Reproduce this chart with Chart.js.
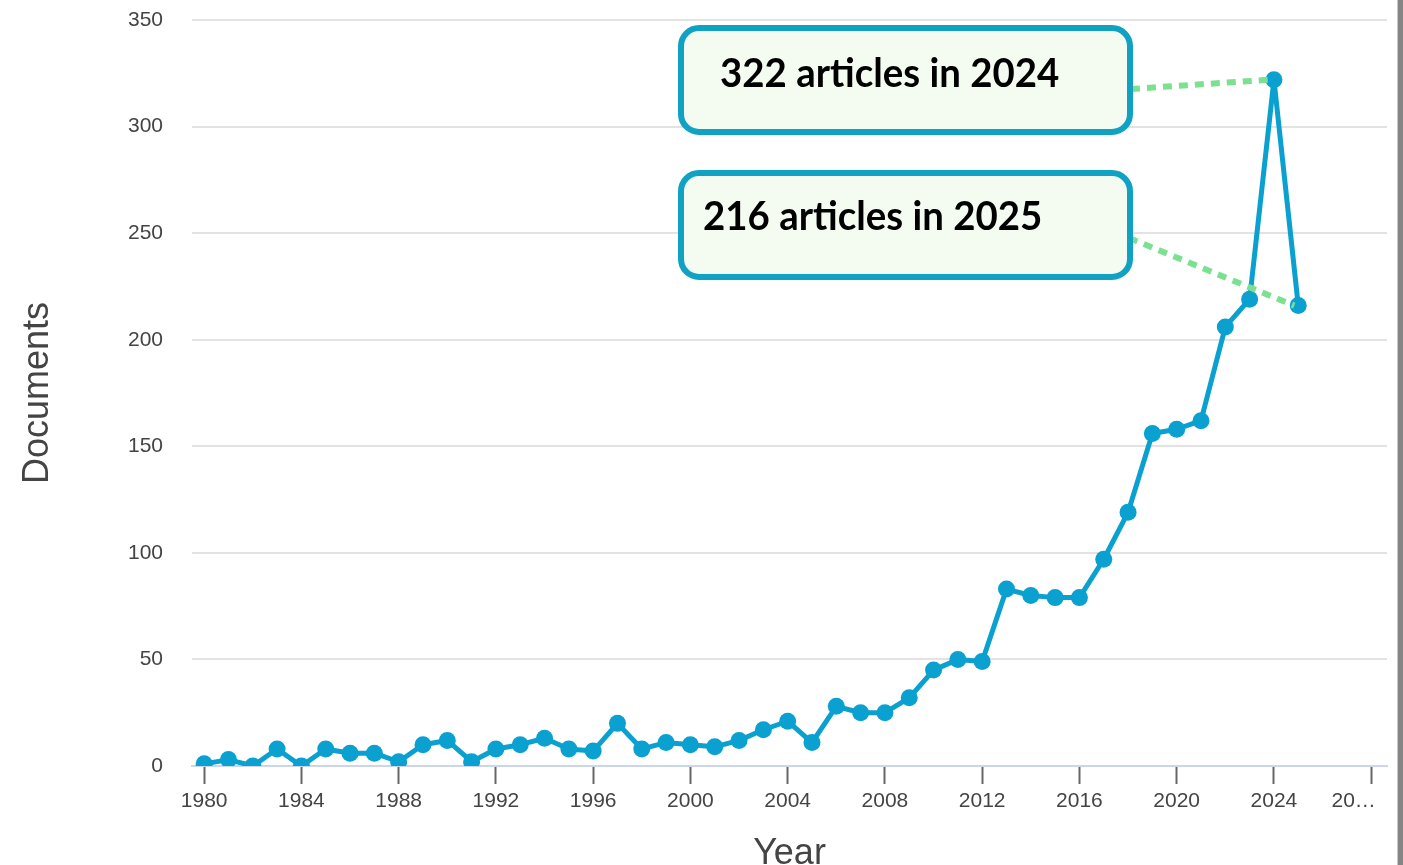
<!DOCTYPE html>
<html>
<head>
<meta charset="utf-8">
<script src="https://cdn.jsdelivr.net/npm/chart.js@4"></script>
<style>
  html, body { margin: 0; padding: 0; background: #fff; overflow: hidden; }
  #wrap { position: relative; width: 1403px; height: 865px; overflow: hidden; }
  #wrap canvas { position: absolute; left: 0; top: 0; }
  #edge { position: absolute; left: 1397px; top: 0; width: 6px; height: 865px; background: #858585; border-left: 1px solid #c8c8c8; }
</style>
</head>
<body>
<div id="wrap">
  <canvas id="docChart" width="1403" height="890" style="width:1403px;height:890px"></canvas>
  <div id="edge"></div>
</div>
<script>
const years = [1980, 1981, 1982, 1983, 1984, 1985, 1986, 1987, 1988, 1989,
  1990, 1991, 1992, 1993, 1994, 1995, 1996, 1997, 1998, 1999,
  2000, 2001, 2002, 2003, 2004, 2005, 2006, 2007, 2008, 2009,
  2010, 2011, 2012, 2013, 2014, 2015, 2016, 2017, 2018, 2019,
  2020, 2021, 2022, 2023, 2024, 2025];
const documents = [1, 3, 0, 8, 0, 8, 6, 6, 2, 10,
  12, 2, 8, 10, 13, 8, 7, 20, 8, 11,
  10, 9, 12, 17, 21, 11, 28, 25, 25, 32,
  45, 50, 49, 83, 80, 79, 79, 97, 119, 156,
  158, 162, 206, 219, 322, 216];
const tickYears = [1980, 1984, 1988, 1992, 1996, 2000, 2004, 2008, 2012, 2016, 2020, 2024, 2028];
const tickLabels = ["1980", "1984", "1988", "1992", "1996", "2000", "2004", "2008", "2012", "2016", "2020", "2024", "20\u2026"];
const callouts = [
  { text: "322 articles in 2024", year: 2024 },
  { text: "216 articles in 2025", year: 2025 }
];

// boxes with dotted leader lines to the points
const calloutPlugin = {
  id: "callouts",
  afterDatasetsDraw(chart) {
    const ctx = chart.ctx;
    const xs = chart.scales.x, ys = chart.scales.y;
    const boxes = [
      { x: 681, y: 28, w: 449, h: 104, tx: 720, ty: 87, ax: 1131, ay: 89 },
      { x: 681, y: 173, w: 449, h: 104, tx: 703, ty: 230, ax: 1129, ay: 238 }
    ];
    callouts.forEach((c, i) => {
      const b = boxes[i];
      const px = xs.getPixelForValue(c.year);
      const py = ys.getPixelForValue(documents[years.indexOf(c.year)]);
      ctx.save();
      ctx.strokeStyle = "#7be08f";
      ctx.lineWidth = 6;
      ctx.setLineDash([9, 7]);
      ctx.beginPath();
      ctx.moveTo(b.ax, b.ay);
      ctx.lineTo(px - 4, py);
      ctx.stroke();
      ctx.setLineDash([]);
      ctx.beginPath();
      ctx.roundRect(b.x, b.y, b.w, b.h, 18);
      ctx.fillStyle = "#f4fbf1";
      ctx.fill();
      ctx.lineWidth = 6;
      ctx.strokeStyle = "#10a2c2";
      ctx.stroke();
      ctx.fillStyle = "#000";
      ctx.font = "bold 40px Lato, 'Open Sans', sans-serif";
      ctx.textBaseline = "alphabetic";
      ctx.translate(b.tx, b.ty);
      ctx.scale(0.96, 1);
      ctx.fillText(c.text, 0, 0);
      ctx.restore();
    });
  }
};

new Chart(document.getElementById("docChart"), {
  type: "line",
  data: {
    datasets: [{
      label: "Documents",
      data: years.map((y, i) => ({ x: y, y: documents[i] })),
      borderColor: "#0aa0d0",
      backgroundColor: "#0aa0d0",
      borderWidth: 5,
      borderJoinStyle: "round",
      borderCapStyle: "round",
      pointRadius: 8.5,
      pointBorderWidth: 0,
      pointBackgroundColor: "#0aa0d0",
      tension: 0,
      fill: false
    }]
  },
  options: {
    responsive: false,
    animation: false,
    layout: { padding: { top: 20, right: 16, left: 0, bottom: 0 } },
    plugins: { legend: { display: false }, tooltip: { enabled: false } },
    scales: {
      x: {
        type: "linear",
        min: 1979.5,
        max: 2028.65,
        afterBuildTicks: s => { s.ticks = tickYears.map(v => ({ value: v })); },
        afterFit: s => { s.height = 124; s.paddingRight = 0; s.paddingLeft = 0; },
        ticks: {
          autoSkip: false,
          maxRotation: 0,
          padding: 5,
          color: "#444",
          font: { family: "'Liberation Sans', Arial, sans-serif", size: 21 },
          // the cut-off last label sits left of its tick
          callback: v => {
            const t = tickLabels[tickYears.indexOf(v)];
            return t.length < 4 ? t + "\u00a0".repeat(6) : t;
          }
        },
        grid: { drawOnChartArea: false, drawTicks: true, tickLength: 18, tickColor: "#666", tickWidth: 2 },
        border: { display: true, color: "#ccd6eb", width: 2 },
        title: {
          display: true,
          text: "Year",
          color: "#444",
          font: { family: "'Liberation Sans', Arial, sans-serif", size: 36, lineHeight: 1 },
          padding: { top: 0, bottom: 18 }
        }
      },
      y: {
        min: 0,
        max: 350,
        afterFit: s => { s.width = 192; s.paddingTop = 0; s.paddingBottom = 0; },
        ticks: {
          stepSize: 50,
          padding: 29,
          color: "#444",
          font: { family: "'Liberation Sans', Arial, sans-serif", size: 21 }
        },
        grid: { color: "#e3e3e3", lineWidth: 2, drawTicks: false },
        border: { display: false },
        title: {
          display: true,
          text: "Documents",
          color: "#444",
          font: { family: "'Liberation Sans', Arial, sans-serif", size: 36, lineHeight: 1 },
          padding: { top: 20, bottom: 0 }
        }
      }
    }
  },
  plugins: [calloutPlugin]
});
</script>
</body>
</html>
